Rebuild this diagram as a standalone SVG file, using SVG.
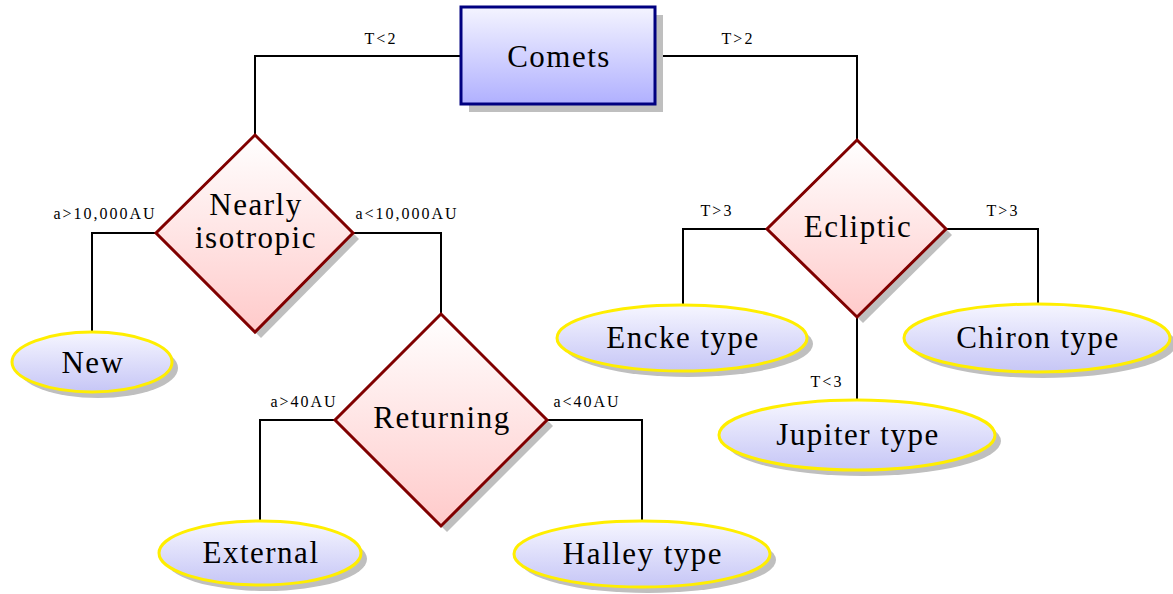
<svg xmlns="http://www.w3.org/2000/svg" width="1173" height="594" viewBox="0 0 1173 594">
<defs>
<linearGradient id="gBox" x1="0" y1="0" x2="0" y2="1"><stop offset="0" stop-color="#f4f4ff"/><stop offset="1" stop-color="#b0b0ff"/></linearGradient>
<linearGradient id="gDia" x1="0" y1="0" x2="0" y2="1"><stop offset="0" stop-color="#ffffff"/><stop offset="1" stop-color="#ffcaca"/></linearGradient>
<linearGradient id="gEll" x1="0" y1="0" x2="0" y2="1"><stop offset="0" stop-color="#f6f6ff"/><stop offset="1" stop-color="#c6c6f6"/></linearGradient>
</defs>
<style>
.sh{fill:#bfbfbf}
.box{fill:url(#gBox);stroke:#000080;stroke-width:3}
.dia{fill:url(#gDia);stroke:#800000;stroke-width:3;stroke-linejoin:miter}
.ell{fill:url(#gEll);stroke:#ffee00;stroke-width:3}
.t{font-family:'Liberation Serif','DejaVu Serif',serif;font-size:31px;fill:#000;text-anchor:middle;letter-spacing:1.5px}
.s{font-family:'Liberation Serif','DejaVu Serif',serif;font-size:16px;fill:#000;text-anchor:middle;letter-spacing:2px}
.c{fill:none;stroke:#000;stroke-width:2}
</style>
<g id="connectors">
<polyline class="c" points="461,56 255,56 255,135"/>
<polyline class="c" points="655,56 857,56 857,140"/>
<polyline class="c" points="156,233 92,233 92,332"/>
<polyline class="c" points="353,233 441,233 441,314"/>
<polyline class="c" points="335,420 260,420 260,521"/>
<polyline class="c" points="547,420 642,420 642,521"/>
<polyline class="c" points="767,229 683,229 683,305"/>
<polyline class="c" points="946,229 1038,229 1038,304"/>
<polyline class="c" points="857,317 857,400"/>
<text class="s" x="381" y="44">T&lt;2</text>
<text class="s" x="738" y="44">T&gt;2</text>
<text class="s" x="105" y="219">a&gt;10,000AU</text>
<text class="s" x="407" y="219">a&lt;10,000AU</text>
<text class="s" x="304" y="407">a&gt;40AU</text>
<text class="s" x="587" y="407">a&lt;40AU</text>
<text class="s" x="717" y="216">T&gt;3</text>
<text class="s" x="1003" y="216">T&gt;3</text>
<text class="s" x="827" y="387">T&lt;3</text>
</g>
<g id="comets">
<rect class="sh" x="469" y="15" width="194" height="97"/>
<rect class="box" x="461" y="7" width="194" height="97"/>
<text class="t" x="559" y="67">Comets</text>
</g>
<g id="nearly">
<polygon class="sh" points="261,141 359,239 261,338 162,239"/>
<polygon class="dia" points="255,135 353,233 255,332 156,233"/>
<text class="t" x="256" y="215">Nearly</text>
<text class="t" x="256" y="248">isotropic</text>
</g>
<g id="ecliptic">
<polygon class="sh" points="863,146 952,235 863,323 773,235"/>
<polygon class="dia" points="857,140 946,229 857,317 767,229"/>
<text class="t" x="858" y="237">Ecliptic</text>
</g>
<g id="returning">
<polygon class="sh" points="447,320 553,426 447,532 341,426"/>
<polygon class="dia" points="441,314 547,420 441,526 335,420"/>
<text class="t" x="442" y="428">Returning</text>
</g>
<g id="new">
<ellipse class="sh" cx="98" cy="368" rx="80" ry="30"/>
<ellipse class="ell" cx="92" cy="362" rx="80" ry="30"/>
<text class="t" x="93" y="373">New</text>
</g>
<g id="external">
<ellipse class="sh" cx="266" cy="559" rx="101" ry="32"/>
<ellipse class="ell" cx="260" cy="553" rx="101" ry="32"/>
<text class="t" x="261" y="563">External</text>
</g>
<g id="halley">
<ellipse class="sh" cx="648" cy="560" rx="128" ry="33"/>
<ellipse class="ell" cx="642" cy="554" rx="128" ry="33"/>
<text class="t" x="643" y="564">Halley type</text>
</g>
<g id="encke">
<ellipse class="sh" cx="688" cy="344" rx="125" ry="33"/>
<ellipse class="ell" cx="682" cy="338" rx="125" ry="33"/>
<text class="t" x="683" y="348">Encke type</text>
</g>
<g id="chiron">
<ellipse class="sh" cx="1043" cy="344" rx="133" ry="34"/>
<ellipse class="ell" cx="1037" cy="338" rx="133" ry="34"/>
<text class="t" x="1038" y="348">Chiron type</text>
</g>
<g id="jupiter">
<ellipse class="sh" cx="863" cy="441" rx="138" ry="35"/>
<ellipse class="ell" cx="857" cy="435" rx="138" ry="35"/>
<text class="t" x="858" y="445">Jupiter type</text>
</g>
</svg>
